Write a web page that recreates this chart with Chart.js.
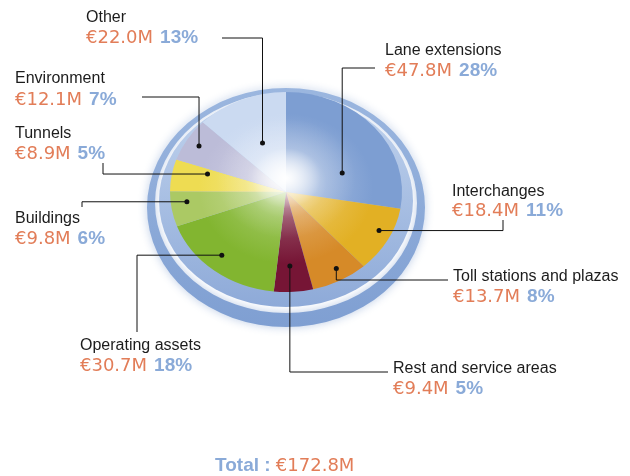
<!DOCTYPE html>
<html>
<head>
    <title>Investments by category</title>
    <style>
        html, body { margin: 0; padding: 0; background: #fff; }
        canvas { display: block; }
    </style>
    <script src="https://cdn.jsdelivr.net/npm/chart.js"></script>
</head>
<body>
    <canvas id="chartPie" width="630" height="476"></canvas>

    <script>
        // data (clockwise from the top)
        var categories = ['Lane extensions', 'Interchanges', 'Toll stations and plazas', 'Rest and service areas',
                          'Operating assets', 'Buildings', 'Tunnels', 'Environment', 'Other'];
        var amounts = [47.8, 18.4, 13.7, 9.4, 30.7, 9.8, 8.9, 12.1, 22.0];   // € millions
        var shares = [28, 11, 8, 5, 18, 6, 5, 7, 13];                         // printed percentages

        var sliceColors = ['#7d9ed2', '#e2b024', '#d68a28', '#761535', '#82b530', '#abc964', '#eedc52', '#bcbcd8', '#cbdaf1'];

        // label layout: text x, name baseline, value baseline, where the dot sits in the slice
        // (t = fraction of the slice angle, r = fraction of the radius), how the line bends, where it ends
        var labelLayout = [
            { x: 385, ny: 55,  vy: 76,  t: 0.69, r: 0.52, path: 'vh', ex: 375, ey: 68 },
            { x: 452, ny: 196, vy: 216, t: 0.42, r: 0.89, path: 'hv', ex: 503, ey: 220 },
            { x: 453, ny: 281, vy: 302, t: 0.44, r: 0.88, path: 'vh', ex: 448, ey: 280 },
            { x: 393, ny: 373, vy: 394, t: 0.56, r: 0.74, path: 'vh', ex: 388, ey: 372 },
            { x: 80,  ny: 350, vy: 371, t: 0.55, r: 0.84, path: 'hv', ex: 137, ey: 332 },
            { x: 15,  ny: 223, vy: 244, t: 0.66, r: 0.86, path: 'hv', ex: 82,  ey: 207 },
            { x: 15,  ny: 138, vy: 159, t: 0.78, r: 0.70, path: 'hv', ex: 103, ey: 163 },
            { x: 15,  ny: 83,  vy: 105, t: 0.50, r: 0.88, path: 'vh', ex: 142, ey: 97 },
            { x: 86,  ny: 22,  vy: 43,  t: 0.51, r: 0.53, path: 'vh', ex: 222, ey: 38 }
        ];

        var squash = 0.862;   // pie seen in perspective
        var orange = '#e27d58';
        var blue = '#8aaad8';

        function mixWhite(hex, f) {
            var n = parseInt(hex.slice(1), 16);
            var r = (n >> 16) & 255, g = (n >> 8) & 255, b = n & 255;
            r = Math.round(r + (255 - r) * f);
            g = Math.round(g + (255 - g) * f);
            b = Math.round(b + (255 - b) * f);
            return 'rgb(' + r + ',' + g + ',' + b + ')';
        }

        function pieGeom(chart) {
            var a = chart.chartArea;
            return { cx: (a.left + a.right) / 2, cy: (a.top + a.bottom) / 2,
                     R: Math.min(a.right - a.left, a.bottom - a.top) / 2 };
        }

        var perspectivePlugin = {
            id: 'perspective',
            beforeDatasetsDraw: function(chart) {
                var ctx = chart.ctx, g = pieGeom(chart);
                var ry = g.R * squash;

                // outer plate ring
                ctx.save();
                ctx.shadowColor = 'rgba(110,145,200,0.45)';
                ctx.shadowBlur = 10;
                ctx.beginPath();
                ctx.ellipse(g.cx, g.cy + 15.5, g.R + 23, ry + 19.5, 0, 0, Math.PI * 2);
                ctx.ellipse(g.cx, g.cy + 11, g.R + 15, ry + 10, 0, 0, Math.PI * 2);
                var ringGrad = ctx.createLinearGradient(0, g.cy - ry - 20, 0, g.cy + ry + 35);
                ringGrad.addColorStop(0, '#9db8e0');
                ringGrad.addColorStop(1, '#7f9fd2');
                ctx.fillStyle = ringGrad;
                ctx.fill('evenodd');
                ctx.restore();

                // rim right under the pie
                ctx.save();
                ctx.beginPath();
                ctx.ellipse(g.cx, g.cy + 9, g.R + 11, ry + 6, 0, 0, Math.PI * 2);
                var rimGrad = ctx.createLinearGradient(0, g.cy - ry, 0, g.cy + ry + 15);
                rimGrad.addColorStop(0, '#c2d4ee');
                rimGrad.addColorStop(1, '#8eaad8');
                ctx.fillStyle = rimGrad;
                ctx.fill();
                ctx.restore();

                ctx.save();
                ctx.translate(g.cx, g.cy);
                ctx.scale(1, squash);
                ctx.translate(-g.cx, -g.cy);
            },
            afterDatasetsDraw: function(chart) {
                var ctx = chart.ctx, g = pieGeom(chart);
                // glossy highlight near the apex
                var hy = g.cy - 16;
                var hl = ctx.createRadialGradient(g.cx, hy, 0, g.cx, hy, g.R * 0.6);
                hl.addColorStop(0, 'rgba(255,255,255,0.98)');
                hl.addColorStop(0.15, 'rgba(255,255,255,0.75)');
                hl.addColorStop(0.5, 'rgba(255,255,255,0.2)');
                hl.addColorStop(1, 'rgba(255,255,255,0)');
                ctx.beginPath();
                ctx.arc(g.cx, g.cy, g.R, 0, Math.PI * 2);
                ctx.fillStyle = hl;
                ctx.fill();
                ctx.restore();
            },
            afterDraw: function(chart) {
                var ctx = chart.ctx;
                var arcs = chart.getDatasetMeta(0).data;

                ctx.save();
                arcs.forEach(function(arc, i) {
                    var L = labelLayout[i];
                    var a = arc.startAngle + L.t * (arc.endAngle - arc.startAngle);
                    var px = arc.x + Math.cos(a) * arc.outerRadius * L.r;
                    var py = arc.y + Math.sin(a) * arc.outerRadius * L.r * squash;

                    ctx.strokeStyle = '#111';
                    ctx.lineWidth = 1;
                    ctx.beginPath();
                    ctx.moveTo(px, py);
                    if (L.path === 'vh') {
                        ctx.lineTo(px, L.ey);
                    } else {
                        ctx.lineTo(L.ex, py);
                    }
                    ctx.lineTo(L.ex, L.ey);
                    ctx.stroke();

                    ctx.fillStyle = '#111';
                    ctx.beginPath();
                    ctx.arc(px, py, 2.5, 0, Math.PI * 2);
                    ctx.fill();

                    ctx.textBaseline = 'alphabetic';
                    ctx.textAlign = 'left';
                    ctx.font = '16px "Liberation Sans", Arial, sans-serif';
                    ctx.fillStyle = '#1c1c1c';
                    ctx.fillText(categories[i], L.x, L.ny);

                    var val = '€' + amounts[i].toFixed(1) + 'M';
                    ctx.font = '18px "DejaVu Sans", sans-serif';
                    ctx.fillStyle = orange;
                    ctx.fillText(val, L.x, L.vy);
                    var w = ctx.measureText(val).width;
                    ctx.font = 'bold 19px "Liberation Sans", Arial, sans-serif';
                    ctx.fillStyle = blue;
                    ctx.fillText(shares[i] + '%', L.x + w + 7, L.vy);
                });

                // total line
                var total = amounts.reduce(function(s, v) { return s + v; }, 0);
                ctx.font = 'bold 19px "Liberation Sans", Arial, sans-serif';
                ctx.fillStyle = blue;
                ctx.fillText('Total :', 215, 471);
                var tw = ctx.measureText('Total : ').width;
                ctx.font = '18px "DejaVu Sans", sans-serif';
                ctx.fillStyle = orange;
                ctx.fillText('€' + total.toFixed(1) + 'M', 215 + tw, 471);
                ctx.restore();
            }
        };

        var ctxPie = document.getElementById('chartPie').getContext('2d');
        var chartPie = new Chart(ctxPie, {
            type: 'pie',
            data: {
                labels: categories,
                datasets: [{
                    data: amounts,
                    borderWidth: 0,
                    backgroundColor: function(c) {
                        var base = sliceColors[c.dataIndex];
                        var chart = c.chart;
                        if (!chart.chartArea) return base;
                        var g = pieGeom(chart);
                        var grad = chart.ctx.createRadialGradient(g.cx, g.cy - 16, 0, g.cx, g.cy, g.R);
                        grad.addColorStop(0, mixWhite(base, 0.7));
                        grad.addColorStop(0.35, mixWhite(base, 0.2));
                        grad.addColorStop(0.75, base);
                        grad.addColorStop(1, base);
                        return grad;
                    }
                }]
            },
            options: {
                responsive: false,
                animation: false,
                events: [],
                layout: { padding: { left: 170, right: 228, top: 76, bottom: 168 } },
                plugins: {
                    legend: { display: false },
                    tooltip: { enabled: false }
                }
            },
            plugins: [perspectivePlugin]
        });
    </script>
</body>
</html>
